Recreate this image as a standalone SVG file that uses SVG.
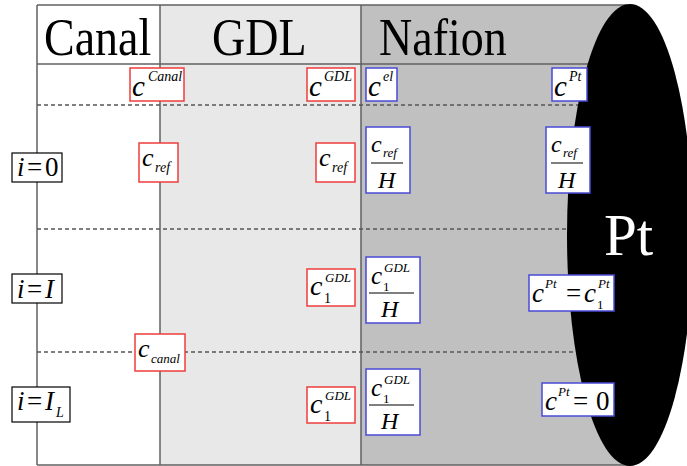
<svg xmlns="http://www.w3.org/2000/svg" width="687" height="466" viewBox="0 0 687 466">
<style>
.mi{font-family:"Liberation Serif","Times New Roman",serif;font-style:italic;fill:#000}
.mn{font-family:"Liberation Serif","Times New Roman",serif;fill:#000}
.hd{font-family:"Liberation Serif","Times New Roman",serif;font-size:46px;fill:#000}
.red{fill:#fff;stroke:#f03c3c;stroke-width:1.5}
.blue{fill:#fff;stroke:#4a4ad6;stroke-width:1.5}
.lbl{fill:#fff;stroke:#000;stroke-width:1.2}
.solid{stroke:#606060;stroke-width:1.5;fill:none}
.dash{stroke:#555;stroke-width:1.3;stroke-dasharray:4 3;fill:none}
.frac{stroke:#555;stroke-width:1.5}
</style>
<rect x="0" y="0" width="687" height="466" fill="#fff"/>
<g id="columns">
<rect x="37" y="5" width="123" height="460" fill="#fff"/>
<rect x="160" y="5" width="201" height="460" fill="#e8e8e8"/>
<rect x="361" y="5" width="269" height="460" fill="#c0c0c0"/>
</g>
<g id="connectors">
<line class="solid" x1="37" y1="5" x2="627" y2="5"/>
<line class="solid" x1="37" y1="465" x2="630" y2="465"/>
<line class="solid" x1="37" y1="64" x2="600" y2="64"/>
<line class="solid" x1="37" y1="5" x2="37" y2="465"/>
<line class="solid" x1="160" y1="5" x2="160" y2="465"/>
<line class="solid" x1="361" y1="5" x2="361" y2="465"/>
<line class="dash" x1="37" y1="105" x2="600" y2="105"/>
<line class="dash" x1="37" y1="229" x2="600" y2="229"/>
<line class="dash" x1="37" y1="352" x2="600" y2="352"/>
</g>
<g id="pt">
<ellipse cx="630" cy="235" rx="63" ry="231" fill="#000"/>
<text x="604" y="255" font-family="Liberation Serif, serif" font-size="59" fill="#fff">Pt</text>
</g>
<g id="headers">
<text class="hd" transform="translate(44,55) scale(1,1.15)">Canal</text>
<text class="hd" transform="translate(212,55) scale(1,1.15)">GDL</text>
<text class="hd" transform="translate(379,55) scale(1,1.15)">Nafion</text>
</g>
<g id="label-i0">
<rect class="lbl" x="12" y="153" width="50" height="29"/>
<text class="mi" x="17" y="176" font-size="27">i</text>
<text class="mn" x="27" y="176" font-size="27">=</text>
<text class="mn" x="45" y="176" font-size="27">0</text>
</g>
<g id="label-iI">
<rect class="lbl" x="12" y="274" width="50" height="29"/>
<text class="mi" x="17" y="298" font-size="27">i</text>
<text class="mn" x="27" y="298" font-size="27">=</text>
<text class="mi" x="45" y="298" font-size="27">I</text>
</g>
<g id="label-iIL">
<rect class="lbl" x="12" y="387" width="58" height="35"/>
<text class="mi" x="17" y="410" font-size="27">i</text>
<text class="mn" x="27" y="410" font-size="27">=</text>
<text class="mi" x="45" y="410" font-size="27">I</text>
<text class="mi" x="56" y="417" font-size="14">L</text>
</g>
<g id="c-canal-top">
<rect class="red" x="130" y="68" width="54" height="33"/>
<text class="mi" x="132" y="96" font-size="29">c</text>
<text class="mi" x="148" y="81" font-size="14">Canal</text>
</g>
<g id="c-gdl-top">
<rect class="red" x="307" y="68" width="48" height="33"/>
<text class="mi" x="309" y="96" font-size="29">c</text>
<text class="mi" x="324" y="81" font-size="14">GDL</text>
</g>
<g id="c-el-top">
<rect class="blue" x="366" y="68" width="31" height="33"/>
<text class="mi" x="368" y="96" font-size="29">c</text>
<text class="mi" x="383" y="81" font-size="14">el</text>
</g>
<g id="c-pt-top">
<rect class="blue" x="552" y="68" width="35" height="33"/>
<text class="mi" x="554" y="96" font-size="29">c</text>
<text class="mi" x="569" y="81" font-size="14">Pt</text>
</g>
<g id="cref-canal">
<rect class="red" x="139" y="143" width="39" height="39"/>
<text class="mi" x="142" y="166" font-size="26">c</text>
<text class="mi" x="155" y="172" font-size="14">ref</text>
</g>
<g id="cref-gdl">
<rect class="red" x="316" y="143" width="39" height="39"/>
<text class="mi" x="319" y="166" font-size="26">c</text>
<text class="mi" x="332" y="172" font-size="14">ref</text>
</g>
<g id="cref-h-left">
<rect class="blue" x="366" y="127" width="44" height="66"/>
<text class="mi" x="371" y="152" font-size="24">c</text>
<text class="mi" x="383" y="157" font-size="13">ref</text>
<line class="frac" x1="371" y1="163" x2="403" y2="163"/>
<text class="mi" x="378" y="188" font-size="24">H</text>
</g>
<g id="cref-h-right">
<rect class="blue" x="546" y="127" width="44" height="66"/>
<text class="mi" x="551" y="152" font-size="24">c</text>
<text class="mi" x="563" y="157" font-size="13">ref</text>
<line class="frac" x1="551" y1="163" x2="583" y2="163"/>
<text class="mi" x="558" y="188" font-size="24">H</text>
</g>
<g id="c1-gdl-mid">
<rect class="red" x="307" y="269" width="48" height="37"/>
<text class="mi" x="310" y="295" font-size="28">c</text>
<text class="mn" x="324" y="303" font-size="14">1</text>
<text class="mi" x="325" y="282" font-size="13">GDL</text>
</g>
<g id="c1-gdl-h-mid">
<rect class="blue" x="366" y="257" width="54" height="66"/>
<text class="mi" x="371" y="284" font-size="25">c</text>
<text class="mn" x="383" y="291" font-size="13">1</text>
<text class="mi" x="384" y="272" font-size="13">GDL</text>
<line class="frac" x1="369" y1="293" x2="414" y2="293"/>
<text class="mi" x="381" y="317" font-size="24">H</text>
</g>
<g id="cpt-eq-mid">
<rect class="blue" x="529" y="275" width="85" height="36"/>
<text class="mi" x="532" y="302" font-size="27">c</text>
<text class="mi" x="545" y="288" font-size="13">Pt</text>
<text class="mn" x="566" y="302" font-size="27">=</text>
<text class="mi" x="584" y="302" font-size="27">c</text>
<text class="mn" x="597" y="309" font-size="13">1</text>
<text class="mi" x="598" y="288" font-size="13">Pt</text>
</g>
<g id="c-canal-sub">
<rect class="red" x="135" y="334" width="50" height="37"/>
<text class="mi" x="138" y="357" font-size="26">c</text>
<text class="mi" x="151" y="363" font-size="13">canal</text>
</g>
<g id="c1-gdl-bot">
<rect class="red" x="307" y="387" width="48" height="36"/>
<text class="mi" x="310" y="413" font-size="28">c</text>
<text class="mn" x="324" y="421" font-size="14">1</text>
<text class="mi" x="325" y="400" font-size="13">GDL</text>
</g>
<g id="c1-gdl-h-bot">
<rect class="blue" x="366" y="369" width="54" height="66"/>
<text class="mi" x="371" y="396" font-size="25">c</text>
<text class="mn" x="383" y="403" font-size="13">1</text>
<text class="mi" x="384" y="384" font-size="13">GDL</text>
<line class="frac" x1="369" y1="405" x2="414" y2="405"/>
<text class="mi" x="381" y="429" font-size="24">H</text>
</g>
<g id="cpt-zero-bot">
<rect class="blue" x="542" y="383" width="72" height="33"/>
<text class="mi" x="545" y="410" font-size="27">c</text>
<text class="mi" x="558" y="396" font-size="13">Pt</text>
<text class="mn" x="573" y="410" font-size="27">=</text>
<text class="mn" x="596" y="410" font-size="27">0</text>
</g>
</svg>
